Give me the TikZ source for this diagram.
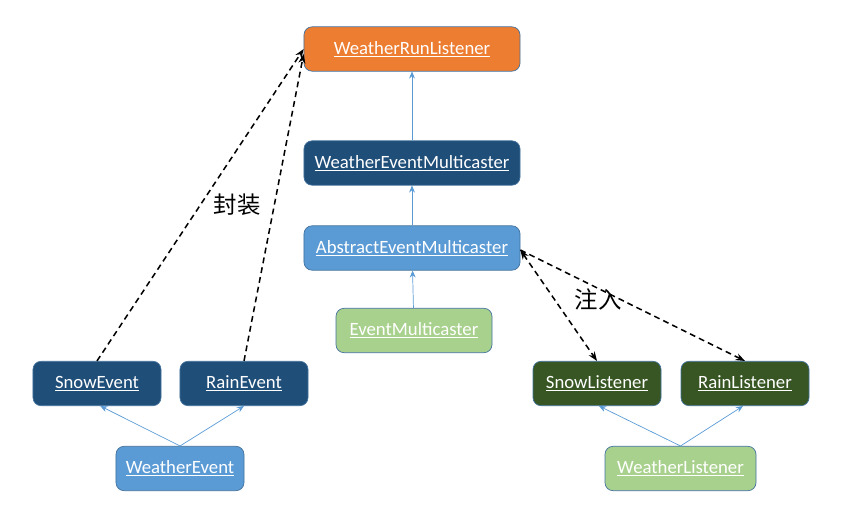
\documentclass[tikz,border=0pt]{standalone}
\usepackage{fontspec}
\setmainfont{Carlito}
\newfontfamily\cjkfont{Noto Sans CJK SC}
\usetikzlibrary{arrows.meta}
\definecolor{runorange}{HTML}{ED7D31}
\definecolor{deepblue}{HTML}{1F4E79}
\definecolor{midblue}{HTML}{5B9BD5}
\definecolor{lightgreen}{HTML}{A9D18E}
\definecolor{deepgreen}{HTML}{375623}
\definecolor{edgeblue}{HTML}{41719C}
\begin{document}
\begin{tikzpicture}[x=0.03cm,y=-0.03cm,>=Stealth,
box/.style={rectangle,rounded corners=0.24cm,draw=edgeblue,line width=0.6pt,
  text=white,font=\fontsize{16}{19}\selectfont,minimum height=1.33cm,inner sep=0pt},
wide/.style={box,minimum width=6.48cm},
small/.style={box,minimum width=3.84cm},
inherit/.style={->,midblue,line width=0.6pt,>={Stealth[length=6pt,width=5pt]}},
inject/.style={dash pattern=on 5pt off 3.5pt,line width=1.3pt,black,>={Stealth[length=8pt,width=6pt]}},
cjklabel/.style={font=\cjkfont\fontsize{20}{24}\selectfont}]
\useasboundingbox(0,0)rectangle(841,508);
\node[wide,fill=runorange](wrl)at(412,49){\underline{WeatherRunListener}};
\node[wide,fill=deepblue](wem)at(412,163){\underline{WeatherEventMulticaster}};
\node[wide,fill=midblue](aem)at(412,248){\underline{AbstractEventMulticaster}};
\node[box,fill=lightgreen,minimum width=4.68cm](em)at(414,330.5){\underline{EventMulticaster}};
\node[small,fill=deepblue](snowe)at(97,383.5){\underline{SnowEvent}};
\node[small,fill=deepblue](raine)at(244,383.5){\underline{RainEvent}};
\node[small,fill=midblue](we)at(180,468.5){\underline{WeatherEvent}};
\node[small,fill=deepgreen](snowl)at(597,383.5){\underline{SnowListener}};
\node[small,fill=deepgreen](rainl)at(745,383.5){\underline{RainListener}};
\node[box,fill=lightgreen,minimum width=4.53cm](wl)at(680.5,468.5){\underline{WeatherListener}};
% blue inheritance arrows
\draw[inherit](wem)--(wrl);
\draw[inherit](aem)--(wem);
\draw[inherit](em)--(aem);
\draw[inherit](we.north)--([xshift=0.1cm]snowe.south);
\draw[inherit](we.north)--(raine.south);
\draw[inherit](wl.north)--([xshift=0.06cm]snowl.south);
\draw[inherit](wl.north)--([xshift=-0.06cm]rainl.south);
% dashed arrows
\draw[inject,->](snowe.north)--(wrl.west);
\draw[inject,->](raine.north)--([yshift=-0.15cm]wrl.west);
\draw[inject,<->]([yshift=-0.06cm]aem.east)--(snowl.north);
\draw[inject,->]([yshift=-0.06cm]aem.east)--(rainl.north);
\node[cjklabel](wrap)at(237,205){封装};
\node[cjklabel](inj)at(598,299){注入};
\end{tikzpicture}
\end{document}
